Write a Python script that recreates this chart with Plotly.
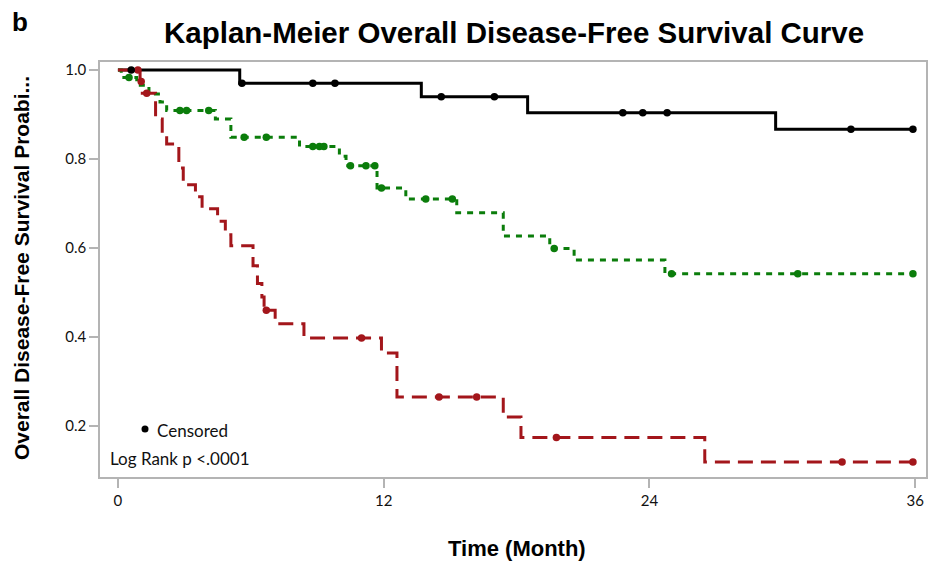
import plotly.graph_objects as go

# ---------------- data ----------------
# Group 1 (black, solid)
black_times = [5.5, 13.7, 18.5, 29.7]
black_surv = [0.970, 0.940, 0.904, 0.867]
black_cens = [0.6, 5.6, 8.8, 9.8, 14.6, 17.0, 22.8, 23.7, 24.8, 33.1, 35.9]
black_end = 35.9

# Group 2 (green, short dash)
green_times = [0.15, 0.85, 1.4, 1.9, 2.2, 4.4, 5.1, 8.2, 10.0, 10.3, 11.7, 13.0, 15.3, 17.4, 19.5, 20.6, 24.7]
green_surv = [0.983, 0.966, 0.946, 0.928, 0.909, 0.890, 0.849, 0.828, 0.806, 0.785, 0.735, 0.710, 0.679, 0.627, 0.599, 0.573, 0.542]
green_cens = [0.5, 2.8, 3.1, 4.1, 5.7, 6.7, 8.8, 9.1, 9.3, 10.5, 11.2, 11.6, 11.9, 13.9, 15.1, 19.7, 25.0, 30.7, 35.9]
green_end = 35.9

# Group 3 (red, long dash)
red_times = [1.0, 1.1, 1.7, 2.0, 2.2, 2.75, 2.95, 3.5, 3.8, 4.5, 4.85, 5.1, 6.1, 6.3, 6.5, 6.6, 7.1, 8.4,
             11.9, 12.6, 17.4, 18.2, 26.5]
red_surv = [0.974, 0.948, 0.890, 0.858, 0.834, 0.780, 0.742, 0.715, 0.688, 0.660, 0.630, 0.605, 0.560, 0.520,
            0.490, 0.460, 0.430, 0.398, 0.364, 0.265, 0.220, 0.174, 0.119]
red_cens = [0.9, 1.05, 1.3, 6.7, 11.0, 14.5, 16.2, 19.8, 32.7, 35.9]
red_end = 35.9

x_ticks = [0, 12, 24, 36]
y_ticks = [0.2, 0.4, 0.6, 0.8, 1.0]

BLACK = "#000000"
GREEN = "#0b7d0b"
RED = "#a3161b"


def step_xy(times, surv, end):
    xs = [0.0] + list(times) + [end]
    ys = [1.0] + list(surv) + [surv[-1]]
    return xs, ys


def surv_at(t, times, surv):
    s = 1.0
    for tt, ss in zip(times, surv):
        if tt <= t:
            s = ss
    return s


fig = go.Figure()

groups = [
    (black_times, black_surv, black_cens, black_end, BLACK, "solid"),
    (green_times, green_surv, green_cens, green_end, GREEN, "6px,6px"),
    (red_times, red_surv, red_cens, red_end, RED, "15px,8px"),
]

for times, surv, cens, end, col, dash in groups:
    xs, ys = step_xy(times, surv, end)
    fig.add_trace(go.Scatter(x=xs, y=ys, mode="lines", line=dict(color=col, width=3, dash=dash, shape="hv"),
                             showlegend=False, hoverinfo="skip"))
for times, surv, cens, end, col, dash in groups[::-1]:
    fig.add_trace(go.Scatter(x=cens, y=[surv_at(c, times, surv) for c in cens], mode="markers",
                             marker=dict(color=col, size=7.5, symbol="circle"), showlegend=False))

axis_common = dict(showline=True, linecolor="#b4b4b4", linewidth=1.5, mirror=True, showgrid=False,
                   zeroline=False, ticks="outside", tickcolor="#b4b4b4", ticklen=9, tickwidth=1.5,
                   tickfont=dict(family="Lato", size=15, color="#111"))

fig.update_layout(
    width=930, height=565,
    margin=dict(l=100, r=2, t=62, b=88),
    paper_bgcolor="white", plot_bgcolor="white",
    xaxis=dict(range=[-0.81, 36.49], tickvals=x_ticks, ticktext=[str(v) for v in x_ticks], **axis_common),
    yaxis=dict(range=[0.0854, 1.018], tickvals=y_ticks, tickformat=".1f", **axis_common),
    showlegend=False,
    shapes=[
        # "Censored" key symbol
        dict(type="circle", xref="paper", yref="paper", xsizemode="pixel", ysizemode="pixel",
             xanchor=(145 - 100) / 826, yanchor=(477 - 429) / 415, x0=-3.5, x1=3.5, y0=-3.5, y1=3.5,
             fillcolor="black", line=dict(color="black", width=0)),
    ],
    annotations=[
        dict(text="<b>Kaplan-Meier Overall Disease-Free Survival Curve</b>", xref="paper", yref="paper",
             x=(514 - 100) / 826, y=1, yshift=30, xanchor="center", yanchor="middle", showarrow=False,
             font=dict(family="Liberation Sans", size=29.5, color="black")),
        dict(text="<b>b</b>", xref="paper", yref="paper", x=0, y=1, xshift=-90, yshift=40,
             xanchor="left", yanchor="middle", showarrow=False,
             font=dict(family="Liberation Sans", size=26, color="black")),
        dict(text="<b>Overall Disease-Free Survival Proabi...</b>", xref="paper", yref="paper",
             x=0, y=(477 - 268) / 415, xshift=-79, textangle=-90, xanchor="center", yanchor="middle",
             showarrow=False, font=dict(family="Liberation Sans", size=21, color="black")),
        dict(text="<b>Time (Month)</b>", xref="paper", yref="paper", x=(517 - 100) / 826, y=0, yshift=-71,
             xanchor="center", yanchor="middle", showarrow=False,
             font=dict(family="Liberation Sans", size=22, color="black")),
        dict(text="Censored", xref="paper", yref="paper", x=(155 - 100) / 826, y=(477 - 430) / 415,
             xanchor="left", yanchor="middle", showarrow=False,
             font=dict(family="Lato", size=17, color="#111")),
        dict(text="Log Rank p &lt;.0001", xref="paper", yref="paper", x=(108 - 100) / 826,
             y=(477 - 458) / 415, xanchor="left", yanchor="middle", showarrow=False,
             font=dict(family="Lato", size=17, color="#111")),
    ],
)

fig.write_html("out.html")
